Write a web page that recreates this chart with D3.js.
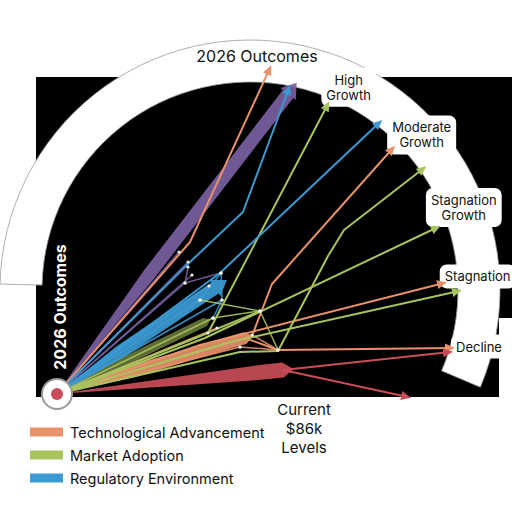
<!DOCTYPE html>
<html>
<head>
<meta charset="utf-8">
<script src="https://cdn.jsdelivr.net/npm/d3@7"></script>
<style>
  body { margin: 0; background: #fff; }
  svg { display: block; }
  text { font-family: Inter, "Liberation Sans", sans-serif; }
</style>
</head>
<body>
<svg id="chart"></svg>
<script>
// Legend categories
const categories = ["Technological Advancement", "Market Adoption", "Regulatory Environment"];

// Outcome labels on the band, and their angle (deg) around the band centre
const outcomes = ["High\nGrowth", "Moderate\nGrowth", "Stagnation\nGrowth", "Stagnation", "Decline"];
const outcomeAngles = [64, 42, 21, 3.3, -14];
const outcomeRadii = [56.25, 57.75, 57.25, 57, 59];

// Flow paths (chart units, origin = current level)
const techFlows = [
  [[0, 0], [33.25, 38], [53.25, 81.5]],
  [[0, 0], [48.75, 14.5], [53.75, 27.5], [84, 61.5]],
  [[0, 0], [35.75, 12.25], [96.75, 27.75]],
  [[47, 14], [55.25, 11], [98.75, 11.5]]
];
const marketFlows = [
  [[0, 0], [37.75, 15.25], [67.75, 72.5]],
  [[0, 0], [45.75, 10.5], [55.25, 10.75], [67.75, 34.5], [71.75, 41], [91.75, 56.5]],
  [[0, 0], [37, 14], [95.25, 41.75]],
  [[0, 0], [43.25, 13], [100.5, 25.75]]
];
const regulatoryFlows = [
  [[0, 0], [33.25, 33], [46.5, 45.5], [58, 76.5]],
  [[0, 0], [40.75, 30.25], [80.75, 68]]
];
const declineFlows = [
  [[56.5, 6], [98.25, 10.5]],
  [[56.5, 6], [87.75, -0.75]]
];

// Thin network links between junctions (no arrows)
const purpleLinks = [
  [[0, 0], [32.75, 33]],
  [[0, 0], [33.75, 29.75]],
  [[0, 0], [32, 27.75]],
  [[0, 0], [30.5, 35.5]],
  [[32.75, 31.75], [32, 27.75], [41, 30.25]]
];
const blueLinks = [
  [[0, 0], [35.75, 23.5]],
  [[0, 0], [41.25, 23.5]],
  [[0, 0], [38, 27]],
  [[41, 30.25], [41.25, 23.5], [39, 19]],
  [[35.75, 23.5], [41, 30.25]]
];
const greenLinks = [
  [[0, 0], [39, 19]],
  [[0, 0], [50.75, 20.75]],
  [[35.75, 23.5], [50.75, 20.75]],
  [[39, 19], [50.75, 20.75], [55.25, 11]],
  [[37.75, 15.25], [50.75, 20.75]]
];
const orangeLinks = [
  [[0, 0], [45.75, 11.75]],
  [[0, 0], [40, 16.5]],
  [[45.75, 11.75], [55.25, 11]],
  [[48.75, 14.75], [55.25, 11]]
];

// Thick bundles from the origin: end point and weight
const bundleKeys = ["purple", "regulatory", "market", "tech", "red"];
const bundleEnds = [[57.75, 75], [39.5, 26.5], [37, 18], [47, 14], [56.5, 6]];
const bundleWeights = [3.25, 3.25, 2.25, 3, 3.75];

const colours = {
  tech: "#e8916a",
  market: "#a8c45e",
  regulatory: "#3b9ad2",
  purple: "#7a60a2",
  red: "#c94d58"
};

const width = 512, height = 512;
const svg = d3.select("#chart").attr("width", width).attr("height", height);

// Scales: 4 px per chart unit
const x = d3.scaleLinear().domain([0, 100]).range([57, 457]);
const y = d3.scaleLinear().domain([0, 100]).range([394, -6]);
const px = v => x(v) - x(0);

// Black panel
svg.append("rect")
  .attr("x", 36).attr("y", 77)
  .attr("width", 476).attr("height", 320)
  .attr("fill", "#000");
svg.append("rect")
  .attr("x", 499).attr("y", 318)
  .attr("width", 13).attr("height", 79)
  .attr("fill", "#fff");

// Outcome band
const bandCentre = [48.25, 26];
const arc = d3.arc()
  .innerRadius(px(52))
  .outerRadius(px(62.5))
  .startAngle(-1.547)
  .endAngle(1.97);
svg.append("path")
  .attr("transform", `translate(${x(bandCentre[0])},${y(bandCentre[1])})`)
  .attr("d", arc())
  .attr("fill", "#fff")
  .attr("stroke", "#9a9a9a")
  .attr("stroke-width", 0.8);

// Label blobs + labels
const labelLayer = svg.append("g");
function onBand(angle, r) {
  const a = angle * Math.PI / 180;
  return [x(bandCentre[0] + r * Math.cos(a)), y(bandCentre[1] + r * Math.sin(a))];
}
outcomes.forEach((label, i) => {
  const [cx, cy] = onBand(outcomeAngles[i], outcomeRadii[i]);
  const lines = label.split("\n");
  const g = labelLayer.append("g");
  const blob = g.append("rect").attr("fill", "#fff").attr("rx", 7);
  const t = g.append("text")
    .attr("text-anchor", "middle")
    .attr("font-size", 13)
    .attr("fill", "#111");
  lines.forEach((ln, j) => {
    t.append("tspan")
      .attr("x", cx)
      .attr("y", cy + (j - (lines.length - 1) / 2) * 15 + 4.5)
      .text(ln);
  });
  const bb = t.node().getBBox();
  blob.attr("x", bb.x - 5).attr("y", bb.y - 4)
    .attr("width", bb.width + 10).attr("height", bb.height + 8);
});

// Markers
const defs = svg.append("defs");
Object.entries(colours).forEach(([k, c]) => {
  defs.append("marker")
    .attr("id", "arrow-" + k)
    .attr("viewBox", "0 -5 10 10")
    .attr("refX", 7).attr("refY", 0)
    .attr("markerWidth", 10).attr("markerHeight", 10)
    .attr("markerUnits", "userSpaceOnUse")
    .attr("orient", "auto")
    .append("path")
    .attr("d", "M0,-4.5L10,0L0,4.5Z")
    .attr("fill", c);
});

// Bundles (tapered wedges)
function bundlePoints(end, w, key) {
  const ox = x(0), oy = y(0), ex = x(end[0]), ey = y(end[1]);
  const dx = ex - ox, dy = ey - oy, len = Math.hypot(dx, dy);
  const ux = dx / len, uy = dy / len, nx = -uy, ny = ux;
  const k = key === "red" ? 0.9 : 0.4;
  const mx = ox + dx * k, my = oy + dy * k, h = w / 2;
  const pts = [[ox, oy], [mx + nx * h, my + ny * h], [ex + nx * h, ey + ny * h]];
  if (key === "purple" || key === "regulatory") {
    pts.push([ex + nx * h * 1.5, ey + ny * h * 1.5],
             [ex + ux * w * 1.1, ey + uy * w * 1.1],
             [ex - nx * h * 1.5, ey - ny * h * 1.5]);
  } else {
    pts.push([ex + ux * w * 0.7, ey + uy * w * 0.7]);
  }
  pts.push([ex - nx * h, ey - ny * h], [mx - nx * h, my - ny * h]);
  return pts;
}
const bundleLayer = svg.append("g");
bundleKeys.forEach((key, i) => {
  bundleLayer.append("path")
    .attr("d", d3.line()(bundlePoints(bundleEnds[i], px(bundleWeights[i]), key)) + "Z")
    .attr("fill", colours[key])
    .attr("opacity", key === "market" ? 0.55 : 0.92);
});

// Thin links
const line = d3.line().x(d => x(d[0])).y(d => y(d[1]));
const linkLayer = svg.append("g").attr("fill", "none");
[["purple", purpleLinks], ["regulatory", blueLinks], ["market", greenLinks], ["tech", orangeLinks]]
  .forEach(([key, links]) => {
    linkLayer.selectAll(null).data(links).join("path")
      .attr("d", line)
      .attr("stroke", colours[key])
      .attr("stroke-width", 1.5)
      .attr("opacity", 0.9);
  });

// Flows with arrows
const flowLayer = svg.append("g").attr("fill", "none");
[["tech", techFlows], ["market", marketFlows], ["regulatory", regulatoryFlows], ["red", declineFlows]]
  .forEach(([key, flows]) => {
    flowLayer.selectAll(null).data(flows).join("path")
      .attr("d", line)
      .attr("stroke", colours[key])
      .attr("stroke-width", 2)
      .attr("stroke-linejoin", "round")
      .attr("marker-end", `url(#arrow-${key})`);
  });

// Junction nodes
const nodes = [...purpleLinks, ...blueLinks, ...greenLinks, ...orangeLinks]
  .flat().filter(p => p[0] !== 0 || p[1] !== 0);
svg.append("g").selectAll("circle").data(nodes).join("circle")
  .attr("cx", d => x(d[0])).attr("cy", d => y(d[1]))
  .attr("r", 1.6).attr("fill", "#e8f0e8");

// Titles
svg.append("text")
  .attr("x", 257).attr("y", 62)
  .attr("text-anchor", "middle")
  .attr("font-size", 16).attr("font-weight", 400)
  .attr("fill", "#111")
  .text("2026 Outcomes");

svg.append("text")
  .attr("transform", "translate(66,307) rotate(-90)")
  .attr("text-anchor", "middle")
  .attr("font-size", 16).attr("font-weight", 700)
  .attr("fill", "#fff")
  .text("2026 Outcomes");

// Origin marker
svg.append("circle")
  .attr("cx", x(0)).attr("cy", y(0)).attr("r", 15)
  .attr("fill", "#fff").attr("stroke", "#9a9a9a").attr("stroke-width", 2);
svg.append("circle")
  .attr("cx", x(0)).attr("cy", y(0)).attr("r", 6)
  .attr("fill", colours.red);

// Current level label
const cur = svg.append("text")
  .attr("text-anchor", "middle")
  .attr("font-size", 15)
  .attr("fill", "#111");
["Current", "$86k", "Levels"].forEach((ln, j) => {
  cur.append("tspan").attr("x", 304).attr("y", 415 + j * 19).text(ln);
});

// Legend
const legendKeys = ["tech", "market", "regulatory"];
const legend = svg.append("g");
categories.forEach((c, i) => {
  const ly = 432 + i * 23;
  legend.append("rect")
    .attr("x", 30).attr("y", ly - 4.5)
    .attr("width", 33).attr("height", 9)
    .attr("fill", colours[legendKeys[i]]);
  legend.append("text")
    .attr("x", 70).attr("y", ly + 5.5)
    .attr("font-size", 14.5)
    .attr("fill", "#111")
    .text(c);
});
</script>
</body>
</html>
